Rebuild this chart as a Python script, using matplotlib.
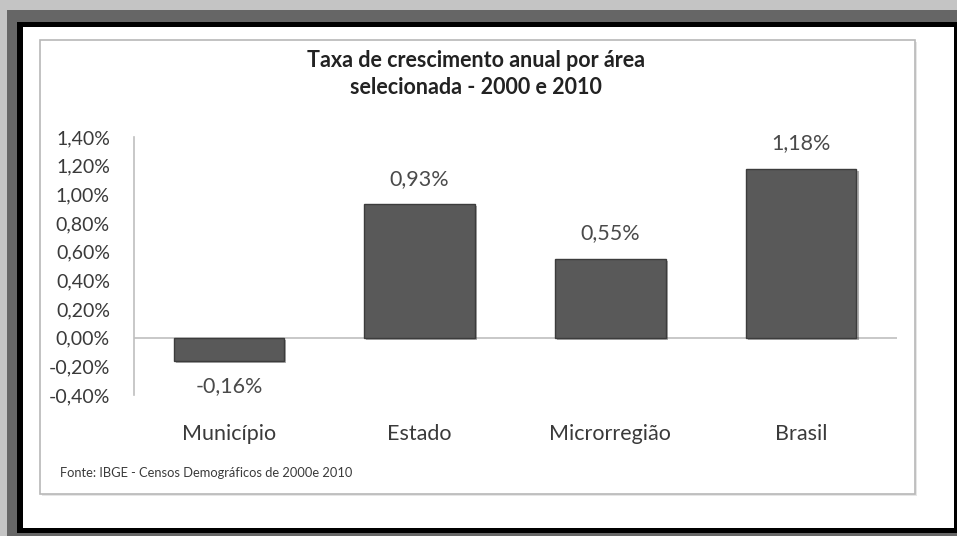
import matplotlib
matplotlib.use("Agg")
import matplotlib.pyplot as plt
from matplotlib.patches import Rectangle
from matplotlib.ticker import FuncFormatter, MultipleLocator
import matplotlib.patheffects as pe

categories = ["Município", "Estado", "Microrregião", "Brasil"]
values = [-0.16, 0.93, 0.55, 1.18]
title_text = "Taxa de crescimento anual por área\nselecionada - 2000 e 2010"
source_text = "Fonte: IBGE - Censos Demográficos de 2000e 2010"

plt.rcParams['font.family'] = ['Lato', 'DejaVu Sans']

W, H = 957, 536
fig = plt.figure(figsize=(W / 100, H / 100), dpi=100)
fig.patch.set_facecolor('#c4c4c4')


def px_rect(x0, y0, x1, y1, **kw):
    # pixel coords with top-left origin -> figure fraction
    r = Rectangle((x0 / W, 1 - y1 / H), (x1 - x0) / W, (y1 - y0) / H,
                  transform=fig.transFigure, **kw)
    fig.patches.append(r)
    return r


# screenshot-like frame
px_rect(7, 10, 957, 536, facecolor='#666666', edgecolor='none', zorder=-5)
px_rect(17, 22, 957, 533, facecolor='#000000', edgecolor='none', zorder=-4)
px_rect(23, 27, 954, 528, facecolor='#ffffff', edgecolor='none', zorder=-3)
# chart area border with soft shadow
px_rect(42, 42, 917, 496, facecolor='#e6e6e6', edgecolor='none', zorder=-2.5)
px_rect(40, 40, 915, 494, facecolor='#ffffff', edgecolor='#b8b8b8',
        linewidth=1.2, zorder=-2)

ax = fig.add_axes([133.5 / W, 1 - 395 / H, (896.5 - 133.5) / W, (395 - 137) / H])
ax.set_facecolor('none')

x = list(range(len(categories)))
bars = ax.bar(x, values, width=0.58, color='#595959', edgecolor='#3c3c3c',
              linewidth=1.0, zorder=3)
for b in bars:
    b.set_path_effects([pe.SimplePatchShadow(offset=(1.5, -1.5), alpha=0.35),
                        pe.Normal()])

ax.set_xlim(-0.5, 3.5)
ax.set_ylim(-0.4, 1.4)
ax.yaxis.set_major_locator(MultipleLocator(0.2))
ax.yaxis.set_major_formatter(
    FuncFormatter(lambda v, p: f"{v:.2f}%".replace('.', ',').replace('-0,00', '0,00')))

ax.axhline(0, color='#bfbfbf', linewidth=1.2, zorder=2)

for s in ['top', 'right', 'bottom']:
    ax.spines[s].set_visible(False)
ax.spines['left'].set_color('#bfbfbf')
ax.spines['left'].set_linewidth(1.2)

ax.set_xticks(x)
ax.set_xticklabels(categories)
ax.tick_params(axis='x', length=0, pad=21, labelsize=15.5, labelcolor='#3a3a3a')
ax.tick_params(axis='y', length=0, pad=17, labelsize=14, labelcolor='#3a3a3a')

labels = [f"{v:.2f}%".replace('.', ',') for v in values]
ax.bar_label(bars, labels=labels, padding=11, fontsize=15.5, color='#4a4a4a')

fig.text(476 / W, 1 - 74 / H, title_text, ha='center', va='center',
         fontsize=15.5, fontweight='bold', color='#222222', linespacing=1.4)
fig.text(60 / W, 1 - 473 / H, source_text, ha='left', va='center',
         fontsize=9.3, color='#3a3a3a')

fig.savefig('out.png', dpi=100, facecolor=fig.get_facecolor())
